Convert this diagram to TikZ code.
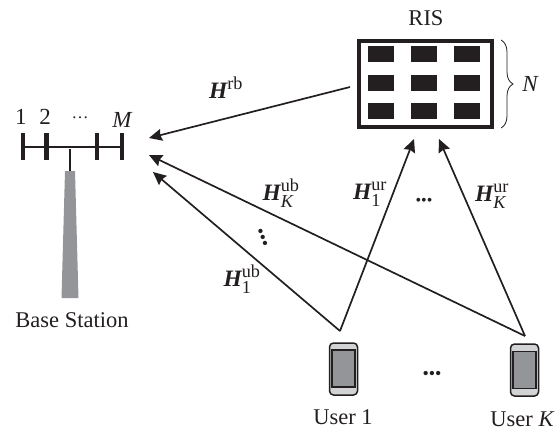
\documentclass[tikz,border=0pt]{standalone}
\usepackage{fontspec}
\usepackage{amsmath}
\setmainfont{Liberation Serif}
\usetikzlibrary{arrows.meta,decorations.pathreplacing}
\definecolor{ink}{HTML}{231F20}
\definecolor{mast}{HTML}{939598}
\definecolor{shell}{HTML}{D1D3D4}
\newcommand{\chan}[3]{{\fontsize{23.5}{23}\selectfont\bfseries\itshape #1}$^{\text{\normalfont #2}}_{\text{#3}}$}
\tikzset{
  x=1pt,y=-1pt,
  every node/.style={text=ink,inner sep=0pt,outer sep=0pt},
  lbl/.style={font=\fontsize{22.5}{23}\selectfont},
  chanlbl/.style={font=\fontsize{26}{26}\selectfont},
  idx/.style={font=\fontsize{23}{23}\selectfont},
  link/.style={draw=ink,line width=1.7pt,-{Stealth[length=13pt,width=12pt,inset=1.5pt]},shorten >=0pt},
  element/.style={draw=ink,line width=4.5pt},
  feeder/.style={draw=ink,line width=1.4pt},
  cell/.style={fill=ink,draw=none,minimum width=26.5pt,minimum height=16pt},
  risbox/.style={draw=ink,line width=4pt,fill=white,minimum width=133pt,minimum height=86pt},
  phone/.style={draw=ink,line width=1.5pt,fill=shell,rounded corners=4pt,minimum width=28pt,minimum height=52pt},
  screen/.style={draw=ink,line width=1.5pt,fill=mast,minimum width=23pt,minimum height=37pt},
}
\begin{document}
\begin{tikzpicture}
\useasboundingbox (0,0) rectangle (555,429);
% antenna
\coordinate (a1t) at (23,133); \coordinate (a1b) at (23,160);
\coordinate (a2t) at (46.5,133); \coordinate (a2b) at (46.5,160);
\coordinate (a3t) at (97,133); \coordinate (a3b) at (97,160);
\coordinate (a4t) at (122,133); \coordinate (a4b) at (122,160);
\coordinate (barL) at (23,147); \coordinate (barR) at (122,147);
\coordinate (stemT) at (70,149); \coordinate (stemB) at (70,171);
\fill[mast] (65,171) -- (75,171) -- (78.5,298) -- (61.5,298) -- cycle;
\draw[feeder] (barL) -- (barR);
\draw[feeder] (stemT) -- (stemB);
\foreach \i in {1,2,3,4} \draw[element] (a\i t) -- (a\i b);
\node[idx] (n1) at (21,117) {1};
\node[idx] (n2) at (45,117) {2};
\node[font=\fontsize{17}{17}\selectfont] (n3) at (80,118) {…};
\node[idx] (nM) at (122,120) {\itshape M};
\node[lbl] (bs) at (72,320) {Base Station};
% RIS
\node[risbox] (ris) at (425.5,84) {};
\foreach \cx/\n in {381/a,424/b,467/c}
  \foreach \cy/\m in {54/a,82.5/b,111/c}
    \node[cell] (c\n\m) at (\cx,\cy) {};
\node[lbl] (ristxt) at (426,18) {RIS};
\coordinate (brT) at (501,40); \coordinate (brB) at (501,128);
\draw[ink,line width=.8pt,decorate,decoration={brace,amplitude=12pt}] (brT) -- (brB);
\node[font=\fontsize{23}{23}\selectfont\itshape] (N) at (530,84) {N};
% users
\node[phone] (u1) at (343.5,369) {};
\node[screen] (s1) at (343.5,368.5) {};
\node[phone] (uK) at (524.5,370) {};
\node[screen] (sK) at (524.5,370) {};
\node[lbl] (u1t) at (343,417) {User 1};
\node[lbl] (uKt) at (522,419) {User \itshape K};
\node[font=\fontsize{18}{18}\selectfont] (ud) at (432,375) {•••};
% links
\coordinate (ufrom1) at (340,331);
\coordinate (ufromK) at (525,336);
\coordinate (risL) at (350,87);
\coordinate (tiprb) at (149,138);
\coordinate (tipK) at (149,155);
\coordinate (tip1) at (153,172);
\coordinate (risa) at (414,139);
\coordinate (risb) at (439,139);
\draw[link] (risL) -- (tiprb);
\draw[link] (ufromK) -- (tipK);
\draw[link] (ufrom1) -- (tip1);
\draw[link] (ufrom1) -- (risa);
\draw[link] (ufromK) -- (risb);
\node[chanlbl] (hrb) at (226,91) {\chan{H}{rb}{}};
\node[chanlbl] (hKub) at (281,193) {\chan{H}{ub}{\itshape K}};
\node[chanlbl] (h1ub) at (242,279) {\chan{H}{ub}{\normalfont 1}};
\node[chanlbl] (h1ur) at (370,194) {\chan{H}{ur}{\normalfont 1}};
\node[chanlbl] (hKur) at (492,196) {\chan{H}{ur}{\itshape K}};
\node[font=\fontsize{16}{16}\selectfont] (md) at (424,202) {•••};
\node[font=\fontsize{18}{18}\selectfont,rotate=-70] (vd) at (261,238) {•••};
\end{tikzpicture}
\end{document}
